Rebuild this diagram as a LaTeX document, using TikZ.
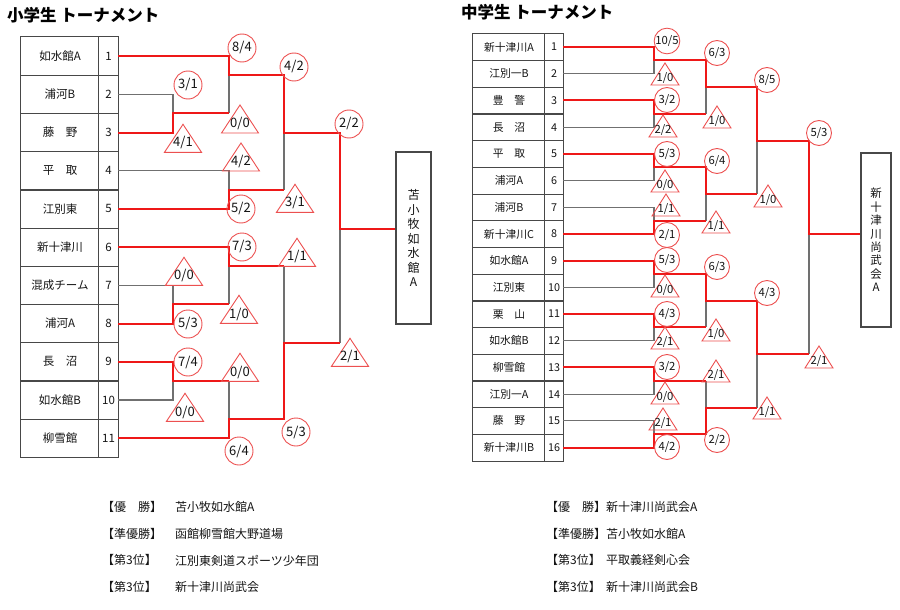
\documentclass[tikz,border=0pt]{standalone}
\usepackage{fontspec}
\setmainfont{Noto Sans CJK JP}
\definecolor{winred}{RGB}{238,24,24}
\definecolor{markred}{RGB}{236,80,80}
\definecolor{losegray}{RGB}{112,112,112}
\definecolor{tabline}{RGB}{72,72,72}
\definecolor{ink}{RGB}{20,20,20}
\tikzset{
	title/.style={anchor=west, inner sep=0, text=black, font=\fontsize{16.5}{18}\selectfont\bfseries},
	cellL/.style={minimum height=38.2, inner sep=0, text=ink, font=\fontsize{11.5}{13}\selectfont},
	cellR/.style={minimum height=26.7, inner sep=0, text=ink, font=\fontsize{10.8}{12}\selectfont},
	tab/.style={draw=tabline, line width=1.2},
	champ/.style={draw=tabline, line width=1.3, inner sep=0, align=center, text=ink},
	win/.style={draw=winred, line width=2},
	lose/.style={draw=losegray, line width=1.2},
	wonL/.style={circle, draw=markred, line width=0.9, minimum size=28, inner sep=0, text=ink, font=\fontsize{13}{14}\selectfont},
	wonR/.style={circle, draw=markred, line width=0.9, minimum size=25, inner sep=0, text=ink, font=\fontsize{11.3}{12}\selectfont},
	lostL/.style={inner sep=0, text=ink, font=\fontsize{13}{14}\selectfont,
		append after command={\pgfextra{\draw[markred, line width=0.9] (\tikzlastnode.center) ++(-18.5,9.3) -- ++(37,0) -- ++(-18.5,-28) -- cycle;}}},
	lostR/.style={inner sep=0, text=ink, font=\fontsize{11.3}{12}\selectfont,
		append after command={\pgfextra{\draw[markred, line width=0.9] (\tikzlastnode.center) ++(-14,7.3) -- ++(28,0) -- ++(-14,-22) -- cycle;}}},
	award/.style={anchor=west, inner sep=0, text=ink, font=\fontsize{12}{13}\selectfont}
}
\begin{document}
\begin{tikzpicture}[x=1pt,y=-1pt]
	\useasboundingbox (0,0) rectangle (900,610);
	\node[title] (t1) at (7,15) {小学生 トーナメント};
	\node[title] (t2) at (461,12) {中学生 トーナメント};

	\foreach \i/\t in {1/如水館A, 2/浦河B, 3/藤　野, 4/平　取, 5/江別東, 6/新十津川, 7/混成チーム, 8/浦河A, 9/長　沼, 10/如水館B, 11/柳雪館} {
		\node[cellL, minimum width=78] (l\i) at (60,{37+38.2*(\i-0.5)}) {\t};
		\node[cellL, minimum width=19] (ln\i) at (108.5,{37+38.2*(\i-0.5)}) {\i};
	}
	\draw[tab] (l1.north west) rectangle (ln11.south east);
	\draw[tab] (ln1.north west) -- (ln11.south west);
	\foreach \i in {1,...,10}
		\draw[tab] (l\i.south west) -- (ln\i.south east);

	\foreach \i/\t in {1/新十津川A, 2/江別一B, 3/豊　警, 4/長　沼, 5/平　取, 6/浦河A, 7/浦河B, 8/新十津川C, 9/如水館A, 10/江別東, 11/栗　山, 12/如水館B, 13/柳雪館, 14/江別一A, 15/藤　野, 16/新十津川B} {
		\node[cellR, minimum width=72] (r\i) at (509,{33.7+26.7*(\i-0.5)}) {\t};
		\node[cellR, minimum width=18] (rn\i) at (554,{33.7+26.7*(\i-0.5)}) {\i};
	}
	\draw[tab] (r1.north west) rectangle (rn16.south east);
	\draw[tab] (rn1.north west) -- (rn16.south west);
	\foreach \i in {1,...,15}
		\draw[tab] (r\i.south west) -- (rn\i.south east);

	\node[champ, minimum width=35, minimum height=172, font=\fontsize{12}{14.5}\selectfont] (lbox) at (413.5,238) {苫\\小\\牧\\如\\水\\館\\A};
	\node[champ, minimum width=30, minimum height=174, font=\fontsize{11.5}{13.4}\selectfont] (rbox) at (876,240) {新\\十\\津\\川\\尚\\武\\会\\A};

	\coordinate (j23) at (173,113.4);
	\coordinate (j13) at (229,75.2);
	\coordinate (j45) at (229,189.8);
	\coordinate (j15) at (284,132.5);
	\coordinate (j78) at (173,304.4);
	\coordinate (j68) at (229,266.2);
	\coordinate (j910) at (173,380.8);
	\coordinate (j911) at (229,419);
	\coordinate (j611) at (284,342.6);
	\coordinate (jf) at (340,228.8);

	\draw[lose] (ln2.east) -| (j23);
	\draw[lose] (j23 -| j13) -- (j13);
	\draw[lose] (ln4.east) -| (j45);
	\draw[lose] (j45 -| j15) -- (j15);
	\draw[lose] (j68 -| j611) -- (j611);
	\draw[lose] (ln7.east) -| (j78);
	\draw[lose] (j78 -| j68) -- (j68);
	\draw[lose] (j910 -| j911) -- (j911);
	\draw[lose] (ln10.east) -| (j910);
	\draw[lose] (j611 -| jf) -- (jf);
	\draw[win] (ln1.east) -| (j13) -| (j15) -| (jf) -- (jf -| lbox.west);
	\draw[win] (ln3.east) -| (j23) -- (j23 -| j13);
	\draw[win] (ln5.east) -| (j45) -- (j45 -| j15);
	\draw[win] (ln6.east) -| (j68) -- (j68 -| j611);
	\draw[win] (ln8.east) -| (j78) -- (j78 -| j68);
	\draw[win] (ln9.east) -| (j910) -- (j910 -| j911);
	\draw[win] (ln11.east) -| (j911) -| (j611) -- (j611 -| jf);

	\coordinate (k12) at (654,60.4);
	\coordinate (k34) at (654,113.8);
	\coordinate (k14) at (706,87.1);
	\coordinate (k56) at (654,167.2);
	\coordinate (k78) at (654,220.6);
	\coordinate (k58) at (706,193.9);
	\coordinate (k18) at (757,140.5);
	\coordinate (k910) at (654,274);
	\coordinate (k1112) at (654,327.4);
	\coordinate (k912) at (706,300.7);
	\coordinate (k1314) at (654,380.8);
	\coordinate (k1516) at (654,434.2);
	\coordinate (k1316) at (706,407.5);
	\coordinate (k916) at (757,354.1);
	\coordinate (kf) at (809,234);

	\draw[lose] (rn2.east) -| (k12);
	\draw[lose] (k34 -| k14) -- (k14);
	\draw[lose] (rn4.east) -| (k34);
	\draw[lose] (k58 -| k18) -- (k18);
	\draw[lose] (rn6.east) -| (k56);
	\draw[lose] (rn7.east) -| (k78);
	\draw[lose] (k78 -| k58) -- (k58);
	\draw[lose] (k916 -| kf) -- (kf);
	\draw[lose] (rn10.east) -| (k910);
	\draw[lose] (k1112 -| k912) -- (k912);
	\draw[lose] (rn12.east) -| (k1112);
	\draw[lose] (k1314 -| k1316) -- (k1316);
	\draw[lose] (rn14.east) -| (k1314);
	\draw[lose] (rn15.east) -| (k1516);
	\draw[lose] (k1316 -| k916) -- (k916);
	\draw[win] (rn1.east) -| (k12) -| (k14) -| (k18) -| (kf) -- (kf -| rbox.west);
	\draw[win] (rn3.east) -| (k34) -- (k34 -| k14);
	\draw[win] (rn5.east) -| (k56) -| (k58) -- (k58 -| k18);
	\draw[win] (rn8.east) -| (k78) -- (k78 -| k58);
	\draw[win] (rn9.east) -| (k910) -| (k912) -| (k916) -- (k916 -| kf);
	\draw[win] (rn11.east) -| (k1112) -- (k1112 -| k912);
	\draw[win] (rn13.east) -| (k1314) -- (k1314 -| k1316);
	\draw[win] (rn16.east) -| (k1516) -| (k1316) -- (k1316 -| k916);

	\node[wonL] (c1) at (242,48) {8/4};
	\node[wonL] (c2) at (294,67) {4/2};
	\node[wonL] (c3) at (188,85) {3/1};
	\node[wonL] (c4) at (349,124) {2/2};
	\node[wonL] (c5) at (241,209) {5/2};
	\node[wonL] (c6) at (242,247) {7/3};
	\node[wonL] (c7) at (188,324) {5/3};
	\node[wonL] (c8) at (188,362) {7/4};
	\node[wonL] (c9) at (296,432) {5/3};
	\node[wonL] (c10) at (239,451) {6/4};
	\node[lostL] (d1) at (240,123.7) {0/0};
	\node[lostL] (d2) at (183,143) {4/1};
	\node[lostL] (d3) at (241,161.7) {4/2};
	\node[lostL] (d4) at (295,203) {3/1};
	\node[lostL] (d5) at (297,257) {1/1};
	\node[lostL] (d6) at (184,276) {0/0};
	\node[lostL] (d7) at (239,314) {1/0};
	\node[lostL] (d8) at (350,357) {2/1};
	\node[lostL] (d9) at (240,372) {0/0};
	\node[lostL] (d10) at (185,412) {0/0};

	\node[wonR] (e1) at (667,41) {10/5};
	\node[wonR] (e2) at (717,53) {6/3};
	\node[wonR] (e3) at (767,80) {8/5};
	\node[wonR] (e4) at (667,100) {3/2};
	\node[wonR] (e5) at (819,133) {5/3};
	\node[wonR] (e6) at (667,154) {5/3};
	\node[wonR] (e7) at (717,161) {6/4};
	\node[wonR] (e8) at (667,235) {2/1};
	\node[wonR] (e9) at (667,260) {5/3};
	\node[wonR] (e10) at (717,267) {6/3};
	\node[wonR] (e11) at (767,293) {4/3};
	\node[wonR] (e12) at (667,314) {4/3};
	\node[wonR] (e13) at (667,367) {3/2};
	\node[wonR] (e14) at (717,440) {2/2};
	\node[wonR] (e15) at (667,447) {4/2};
	\node[lostR] (f1) at (665,77.7) {1/0};
	\node[lostR] (f2) at (717,120.7) {1/0};
	\node[lostR] (f3) at (663,129.7) {2/2};
	\node[lostR] (f4) at (665,184.7) {0/0};
	\node[lostR] (f5) at (768,199.7) {1/0};
	\node[lostR] (f6) at (666,208.7) {1/1};
	\node[lostR] (f7) at (716,225.7) {1/1};
	\node[lostR] (f8) at (665,289.7) {0/0};
	\node[lostR] (f9) at (716,333.7) {1/0};
	\node[lostR] (f10) at (665,341.7) {2/1};
	\node[lostR] (f11) at (819,360.7) {2/1};
	\node[lostR] (f12) at (716,374.7) {2/1};
	\node[lostR] (f13) at (665,396.7) {0/0};
	\node[lostR] (f14) at (767,411.7) {1/1};
	\node[lostR] (f15) at (663,422.7) {2/1};

	\foreach \i/\k/\t in {1/【優　勝】/苫小牧如水館A, 2/【準優勝】/函館柳雪館大野道場, 3/【第3位】/江別東剣道スポーツ少年団, 4/【第3位】/新十津川尚武会} {
		\node[award] (g\i) at (102,{507+26.7*(\i-1)}) {\k};
		\node[award] (h\i) at (175,{507+26.7*(\i-1)}) {\t};
	}
	\foreach \i/\k/\t in {1/【優　勝】/新十津川尚武会A, 2/【準優勝】/苫小牧如水館A, 3/【第3位】/平取義経剣心会, 4/【第3位】/新十津川尚武会B} {
		\node[award] (p\i) at (546,{507+26.7*(\i-1)}) {\k};
		\node[award] (q\i) at (606,{507+26.7*(\i-1)}) {\t};
	}
\end{tikzpicture}
\end{document}
